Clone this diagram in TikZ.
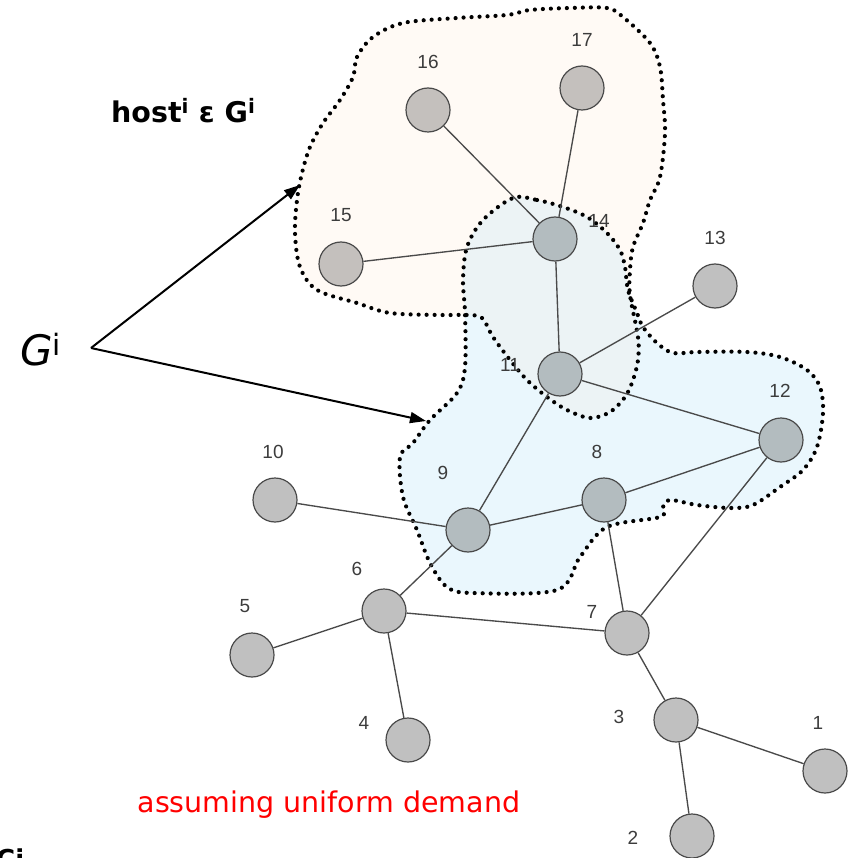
\documentclass[tikz,border=0pt]{standalone}
\usepackage{fontspec}
\setmainfont{Liberation Sans}
\newfontfamily\comicfont{DejaVu Sans}
\usetikzlibrary{arrows.meta}

\definecolor{beigefill}{HTML}{FFFAF5}
\definecolor{bluefill}{HTML}{EAF7FD}
\definecolor{bothfill}{HTML}{ECF3F5}
\definecolor{nodegray}{HTML}{C0C0C0}
\definecolor{nodebeige}{HTML}{C4C0BD}
\definecolor{nodeblue}{HTML}{B3BCBF}
\definecolor{edgegray}{HTML}{4A4A4A}
\definecolor{labelgray}{HTML}{3C3C3C}

\tikzset{
  vertex/.style={circle, draw=edgegray, line width=1.2pt, fill=nodegray,
    minimum size=44pt, inner sep=0pt},
  hostvertex/.style={vertex, fill=nodebeige},
  groupvertex/.style={vertex, fill=nodeblue},
  vlabel/.style={text=labelgray, font=\fontsize{19}{19}\selectfont, inner sep=0pt},
  link/.style={draw=edgegray, line width=1.35pt},
  dotline/.style={draw=black, line width=4.2pt, line cap=round,
    dash pattern=on 0pt off 8pt},
  pointer/.style={draw=black, line width=2pt,
    -{Triangle[length=16pt,width=11pt]}},
}

% cluster outlines
\newcommand{\hostpath}{plot[smooth cycle, tension=0.55] coordinates {
  (353,77) (357,57) (373,37) (403,23) (457,18) (507,15) (530,10) (570,8)
  (607,8) (623,17) (650,43) (660,67) (663,100) (665,133) (660,177)
  (650,200) (643,223) (633,247) (630,270) (630,295) (638,337) (638,360)
  (633,380) (625,397) (610,412) (590,418) (567,410) (547,397) (527,380)
  (510,360) (493,337) (482,318) (467,315) (440,315) (390,313) (357,303)
  (317,290) (300,267) (295,233) (297,200) (302,173) (310,147) (323,123)
  (340,100)}}
\newcommand{\grouppath}{plot[smooth cycle, tension=0.55] coordinates {
  (513,198) (537,200) (563,207) (587,217) (607,233) (620,250) (625,267)
  (628,290) (637,313) (643,327) (657,343) (673,353) (697,352) (747,352)
  (780,357) (807,370) (820,387) (823,413) (817,447) (803,470) (780,487)
  (753,505) (730,508) (697,505) (670,500) (663,507) (660,517) (607,527)
  (580,557) (557,590) (473,593) (447,587) (430,563) (417,530) (403,497)
  (400,457) (413,443) (430,420) (457,393) (465,367) (465,313) (463,280)
  (467,247) (483,220)}}

\begin{document}
\begin{tikzpicture}[x=1pt, y=-1pt]
\useasboundingbox (0,0) rectangle (854,858);

% cluster areas
\fill[beigefill] \hostpath;
\fill[bluefill] \grouppath;
\begin{scope}
  \clip \hostpath;
  \fill[bothfill] \grouppath;
\end{scope}
\path[dotline] \hostpath;
\path[dotline] \grouppath;

% vertices
\node[hostvertex] (n16) at (428,110) {};
\node[hostvertex] (n17) at (582,88) {};
\node[hostvertex] (n15) at (341,264) {};
\node[groupvertex] (n14) at (555,239) {};
\node[vertex] (n13) at (715,286) {};
\node[groupvertex] (n11) at (560,374) {};
\node[groupvertex] (n12) at (781,440) {};
\node[groupvertex] (n8) at (604,500) {};
\node[groupvertex] (n9) at (468,530) {};
\node[vertex] (n10) at (275,500) {};
\node[vertex] (n6) at (384,611) {};
\node[vertex] (n5) at (252,655) {};
\node[vertex] (n4) at (408,740) {};
\node[vertex] (n7) at (627,633) {};
\node[vertex] (n3) at (676,720) {};
\node[vertex] (n1) at (825,771) {};
\node[vertex] (n2) at (692,836) {};

% edges
\foreach \a/\b in {n16/n14, n17/n14, n15/n14, n14/n11, n11/n13, n11/n12,
  n11/n9, n9/n10, n9/n8, n9/n6, n8/n12, n8/n7, n12/n7, n6/n5, n6/n4,
  n6/n7, n7/n3, n3/n1, n3/n2}
  \draw[link] (\a) -- (\b);

% vertex numbers
\node[vlabel] (l16) at (428,62) {16};
\node[vlabel] (l17) at (582,40) {17};
\node[vlabel] (l15) at (341,215) {15};
\node[vlabel] (l14) at (599,221) {14};
\node[vlabel] (l13) at (715,238) {13};
\node[vlabel] (l11) at (510,365) {11};
\node[vlabel] (l12) at (780,391) {12};
\node[vlabel] (l8) at (597,452) {8};
\node[vlabel] (l9) at (443,473) {9};
\node[vlabel] (l10) at (273,452) {10};
\node[vlabel] (l6) at (357,569) {6};
\node[vlabel] (l5) at (245,606) {5};
\node[vlabel] (l4) at (364,723) {4};
\node[vlabel] (l7) at (592,612) {7};
\node[vlabel] (l3) at (619,717) {3};
\node[vlabel] (l1) at (818,723) {1};
\node[vlabel] (l2) at (633,838) {2};

% annotations
\node[anchor=base west, inner sep=0pt, font=\comicfont\bfseries\fontsize{28.5}{28.5}\selectfont]
  (host) at (111,123) {host\textsuperscript{i} ε G\textsuperscript{i}};
\node[anchor=base west, inner sep=0pt, font=\comicfont\fontsize{42}{42}\selectfont]
  (gi) at (20,365) {\textit{G}\textsuperscript{i}};
\node[anchor=center, inner sep=0pt, text=red, font=\comicfont\fontsize{28.5}{28.5}\selectfont]
  (demand) at (329,805) {assuming uniform demand};
\node[anchor=base west, inner sep=0pt, font=\comicfont\bfseries\fontsize{26}{26}\selectfont]
  (ci) at (-4,868) {Ci};

\coordinate (gsrc) at (91,348);
\coordinate (tipA) at (300,185);
\coordinate (tipB) at (426,421);
\draw[pointer] (gsrc) -- (tipA);
\draw[pointer] (gsrc) -- (tipB);
\end{tikzpicture}
\end{document}
